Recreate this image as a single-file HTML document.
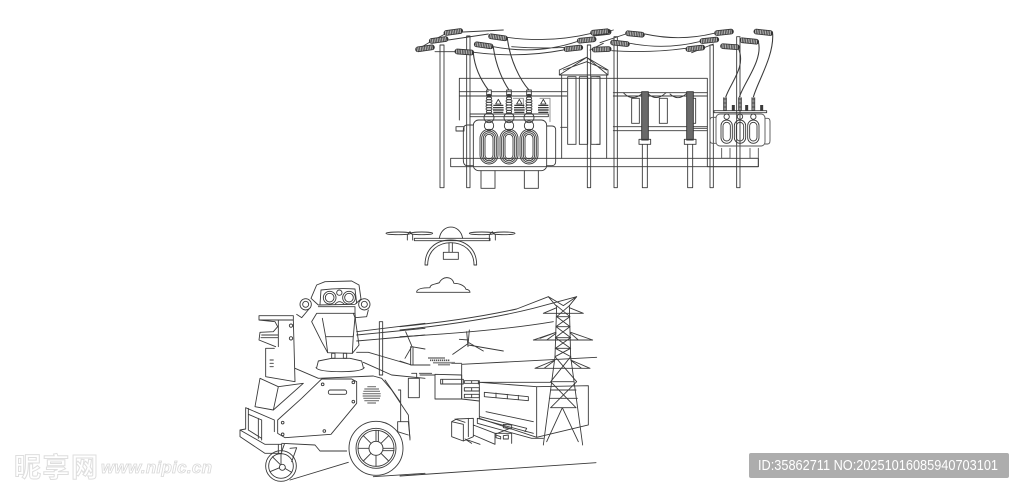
<!DOCTYPE html>
<html><head><meta charset="utf-8"><style>
html,body{margin:0;padding:0;background:#fff;width:1024px;height:493px;overflow:hidden}
svg{display:block}
.l{fill:none;stroke:#3a3a3a;stroke-width:2.7;stroke-linejoin:round;stroke-linecap:round}
</style></head><body>
<svg width="1024" height="493" viewBox="0 0 1024 493" xmlns="http://www.w3.org/2000/svg">
<defs>
<g id="ins"><path d="M-21 0H21" stroke="#333" stroke-width="17" stroke-linecap="round"/><path d="M-25 0H25" stroke="#b4b4b4" stroke-width="12" stroke-linecap="butt" stroke-dasharray="3 2"/></g>
<g id="stack"><ellipse cx="0" cy="2" rx="7" ry="4"/><ellipse cx="0" cy="10" rx="8" ry="4"/><ellipse cx="0" cy="18" rx="9" ry="4"/><ellipse cx="0" cy="26" rx="9" ry="4"/><ellipse cx="0" cy="34" rx="9" ry="4"/><ellipse cx="0" cy="42" rx="9" ry="4"/><ellipse cx="0" cy="50" rx="8" ry="4"/><circle cx="0" cy="68" r="15"/></g>
<g id="py"><path d="M0 0L-8 14H8Z" fill="none" stroke="#333" stroke-width="2.5"/><path d="M-15 18H15M-16 25H16M-16 32H16M-15 39H15" fill="none" stroke="#222" stroke-width="3.5" stroke-linecap="butt"/></g>
<g id="coil"><rect x="-27" y="-52" width="54" height="104" rx="27"/><rect x="-22" y="-47" width="44" height="94" rx="22"/><rect x="-17" y="-42" width="34" height="84" rx="17"/><rect x="-12" y="-37" width="24" height="74" rx="12"/></g>
</defs>

<!-- substation left part -->
<g transform="translate(410,20) scale(.33333)" class="l">
<path d="M90 75H102V503H90ZM170 48H180V503H170ZM532 75H542V503H532Z"/>
<path d="M148 175H892V440M148 175V300M148 215H235M245 215H470M148 228H470M122 415H1045V440H122ZM138 320H162V333H138ZM452 322H470M852 325H892"/>
<path d="M610 218H892M610 228H892M610 320H892M610 332H892"/>
<!-- temple -->
<path d="M448 165L530 112L594 165M448 165V150L530 112L594 150V165M448 165H594M455 165V415M590 165V415M460 150L530 125L590 150"/>
<path d="M473 170H498V373H473ZM508 170H533V373H508ZM543 170H570V373H543Z"/>
<path d="M560 170H570V373H560"/>
<!-- wires -->
<path d="M160 36L280 30M115 60L235 42M75 95H135M60 66L105 42M20 90L60 66"/>
<path d="M292 52Q420 70 545 40M250 80Q380 105 500 65M192 97Q330 115 460 90M305 80Q400 88 500 80"/>
<path d="M190 100C195 150 220 190 235 210M250 82C258 140 280 185 297 210M292 55C300 120 330 180 357 210" stroke-width="3.2"/>
<use href="#ins" transform="translate(130,36) rotate(-8)"/>
<use href="#ins" transform="translate(86,60) rotate(-8)"/>
<use href="#ins" transform="translate(45,85) rotate(-8)"/>
<use href="#ins" transform="translate(264,52) rotate(8)"/>
<use href="#ins" transform="translate(221,76) rotate(8)"/>
<use href="#ins" transform="translate(163,96) rotate(4)"/>
<use href="#ins" transform="translate(575,38) rotate(-6)"/>
<use href="#ins" transform="translate(530,60) rotate(-6)"/>
<use href="#ins" transform="translate(490,85) rotate(-6)"/>
<!-- transformer -->
<path d="M310 235H340V262M390 235H420V305" stroke="#888"/>
<path d="M180 282H415V290H180Z"/>
<use href="#stack" x="237" y="225"/><use href="#stack" x="297" y="225"/><use href="#stack" x="357" y="225"/>
<path d="M230 210H244V225H230ZM290 210H304V225H290ZM350 210H364V225H350Z"/>
<use href="#py" x="265" y="238"/><use href="#py" x="328" y="238"/><use href="#py" x="400" y="238"/>
<rect x="190" y="300" width="220" height="152" rx="16"/>
<path d="M190 315H172Q160 315 160 330V420Q160 437 172 437H190M410 318H425Q437 318 437 330V425Q437 437 425 437H410"/>
<path d="M213 452V505H255V452M343 452V505H385V452"/>
<circle cx="237" cy="317" r="14"/><circle cx="297" cy="317" r="14"/><circle cx="357" cy="317" r="14"/>
<use href="#coil" x="237" y="380"/><use href="#coil" x="297" y="380"/><use href="#coil" x="357" y="380"/>
</g>

<!-- substation right part -->
<g transform="translate(590,20) scale(.33333)" class="l">
<path d="M72 50H82V503H72ZM360 75H370V503H360ZM440 50H450V503H440Z"/>
<path d="M505 415V440H352"/>
<path d="M165 42Q270 65 372 40M120 70Q225 90 328 65M65 92Q180 100 287 85M305 98L370 72M20 44L70 30M30 68L125 36M0 90L40 70"/>
<path d="M445 85C470 140 420 190 407 232M505 65C520 120 460 190 448 232M548 42C552 110 500 190 490 232" stroke-width="3.2"/>
<use href="#ins" transform="translate(30,36) rotate(-6)"/>
<use href="#ins" transform="translate(135,42) rotate(6)"/>
<use href="#ins" transform="translate(90,70) rotate(6)"/>
<use href="#ins" transform="translate(35,88) rotate(-2)"/>
<use href="#ins" transform="translate(402,37) rotate(-6)"/>
<use href="#ins" transform="translate(358,61) rotate(-6)"/>
<use href="#ins" transform="translate(316,85) rotate(-6)"/>
<use href="#ins" transform="translate(520,37) rotate(6)"/>
<use href="#ins" transform="translate(478,63) rotate(6)"/>
<use href="#ins" transform="translate(420,80) rotate(4)"/>
<!-- bushings -->
<rect x="155" y="215" width="20" height="145" fill="#6a6a6a" stroke="#333"/>
<rect x="290" y="215" width="20" height="145" fill="#6a6a6a" stroke="#333"/>
<path d="M147 358H182V373H147ZM283 358H318V373H283ZM157 373V503H172V373M293 373V503H308V373"/>
<path d="M125 235H148V310H125ZM208 235H232V310H208ZM310 235H317V310H310"/>
<path d="M100 218Q125 245 155 222M175 222Q200 245 228 218M240 222Q265 245 290 220"/>
<!-- small transformer -->
<path d="M372 272H530V278H372Z"/>
<path d="M405 232V272M450 232V272M490 232V272" stroke-width="11" stroke-linecap="butt"/>
<path d="M405 232V272M450 232V272M490 232V272" stroke="#bbb" stroke-width="7" stroke-linecap="butt" stroke-dasharray="2 2"/>
<path d="M430 255V272M470 255V272M515 255V272" stroke-width="9" stroke-linecap="butt"/>
<rect x="378" y="282" width="147" height="96" rx="12" stroke="#555"/>
<path d="M378 292H368Q360 292 360 302V360Q360 370 368 370H378M525 295H533Q540 295 540 305V362Q540 372 533 372H525" stroke="#555"/>
<path d="M395 385V415H420V385M480 385V415H505V385" stroke="#555"/>
<rect x="393" y="300" width="34" height="70" rx="17"/><rect x="399" y="307" width="22" height="56" rx="11"/>
<rect x="433" y="300" width="34" height="70" rx="17"/><rect x="439" y="307" width="22" height="56" rx="11"/>
<rect x="473" y="300" width="34" height="70" rx="17"/><rect x="479" y="307" width="22" height="56" rx="11"/>
<circle cx="410" cy="290" r="8"/><circle cx="450" cy="290" r="8"/><circle cx="490" cy="290" r="8"/>
</g>

<!-- drone and cloud -->
<g transform="translate(380,220) scale(.33333)" class="l" stroke="#444">
<path d="M178 55C185 10 240 10 248 55"/>
<path d="M103 55H330V62H103Z"/>
<ellipse cx="55" cy="40" rx="37" ry="4"/><ellipse cx="125" cy="40" rx="33" ry="4"/>
<ellipse cx="305" cy="40" rx="37" ry="4"/><ellipse cx="372" cy="40" rx="33" ry="4"/>
<path d="M82 60V44L90 35L98 44V60M328 60V44L337 35L346 44V60"/>
<path d="M135 135C135 85 170 60 212 60C255 60 290 85 290 135H282C282 92 250 68 212 68C175 68 143 92 143 135Z"/>
<path d="M207 68V95M217 68V95M190 97H235V118H190Z"/>
<path d="M110 215C112 205 130 203 150 203C150 192 170 192 178 188C185 170 215 165 222 190C240 190 255 198 258 208C265 208 270 212 270 217H110"/>
</g>

<!-- robot -->
<g transform="translate(235,275) scale(.33333)" class="l">
<path d="M228 70L245 30L270 20L350 18L372 30L378 72L360 88L250 90Z"/>
<path d="M258 45Q310 38 360 42L365 85M258 45L255 88"/>
<circle cx="284" cy="68" r="19"/><circle cx="284" cy="68" r="13"/><circle cx="342" cy="68" r="19"/><circle cx="342" cy="68" r="13"/><circle cx="313" cy="53" r="8"/><path d="M300 88Q313 72 328 88"/>
<circle cx="212" cy="88" r="17"/><circle cx="212" cy="88" r="9"/><circle cx="388" cy="88" r="17"/><circle cx="388" cy="88" r="9"/>
<path d="M185 118L200 128L222 102M355 115L360 128L395 125L400 105"/>
<path d="M245 115H360L362 140L372 210L352 235L278 233L260 200L230 140Z"/>
<path d="M250 95H360V115M262 130L272 185H355L360 125M272 185L278 233M355 180L352 235"/>
<path d="M290 235H300V250H290ZM325 235H335V250H325Z"/>
<path d="M245 278L250 258L290 250H345L380 258L385 278M243 278Q250 290 320 290Q380 290 388 278"/>
<path d="M72 122H175V135H72ZM72 135L120 140L128 155L115 170L75 172L72 195L122 215M130 135V215M175 135L180 320L92 305V220H118M80 180H128M78 188H128"/>
<circle cx="168" cy="152" r="5"/><circle cx="168" cy="190" r="5"/>
<path d="M105 255H115M105 265H115M105 275H115"/>
<path d="M75 310L130 335L205 325M75 310L60 395L115 405L205 325M130 335L115 405"/>
<path d="M32 398L118 435V470M32 398V462L15 465V485L90 535H140V508H90L15 465M40 400V465M70 430V490M80 435V495M40 418L80 435M40 465L80 490"/>
<path d="M180 280L250 310L415 303L440 310L470 345L520 420L525 495M140 505L240 510L255 528H335"/>
<path d="M260 312H350L365 320V385L288 478L150 488L128 475V435L200 370Z"/>
<circle cx="263" cy="328" r="4"/><circle cx="355" cy="322" r="4"/><circle cx="355" cy="380" r="4"/><circle cx="268" cy="468" r="4"/><circle cx="143" cy="443" r="4"/><circle cx="143" cy="478" r="4"/>
<rect x="280" y="345" width="55" height="13" rx="6"/>
<path d="M397 335H423M388 342H432M385 349H435M383 356H437M383 363H437M385 370H435M388 377H432M397 384H423" stroke="#777" stroke-width="3.5" stroke-linecap="butt"/>
<circle cx="423" cy="520" r="81"/><circle cx="423" cy="520" r="60"/><circle cx="423" cy="520" r="54"/><circle cx="423" cy="520" r="21"/>
<path d="M423 466V499M423 541V574M369 520H402M444 520H477M385 482L408 505M438 535L461 558M461 482L438 505M408 535L385 558M430 466V499M477 527H444"/>
<circle cx="138" cy="573" r="46"/><circle cx="138" cy="573" r="37"/><circle cx="142" cy="577" r="9"/>
<path d="M138 536V568M105 590L134 578M170 592L150 580M112 545L135 568M130 510V535M165 520L185 518L170 560M148 508L140 530"/>
<path d="M165 615L340 562M415 605L570 595"/>
<path d="M433 140H443V300H433ZM490 345H497V440H490M488 440L520 440L525 490M488 440V470L520 480"/>
<path d="M365 170L570 145M365 180L570 160M365 198L570 180M365 232H400L530 270H570M385 262L470 300L570 310M450 315L495 380"/>
<path d="M527 215H534V270H527ZM530 212L512 170M530 215L510 250M530 215L570 222"/>
</g>

<!-- scene -->
<g transform="translate(400,285) scale(.33333)" class="l">
<path d="M0 125Q200 105 350 72L445 35M0 135Q240 110 400 70L530 35M0 155Q280 140 460 110"/>
<path d="M0 228L35 240H90M155 235H185"/>
<path d="M25 280H58V338H25ZM35 265H50V280M58 265H95M60 270H105"/>
<path d="M105 268L185 270V342H105Z"/>
<path d="M185 238L590 217M185 238V342L238 348"/>
<path d="M122 283H190V297H122ZM128 283V297"/>
<path d="M193 287H238V295H193ZM193 308H238V318H193ZM193 328H238V338H193ZM215 287V295M215 308V318M215 328V338M235 287V297"/>
<path d="M238 292L410 305V457L238 400ZM238 292H350L455 292M410 305L565 302V420L410 457"/>
<path d="M253 322L385 335V347L253 335ZM288 324V337M322 328V341M355 331V344"/>
<path d="M258 380L400 410M232 400L400 445M232 400V415L395 460H430M240 395L380 430L375 440M310 418L335 420V432L310 428Z"/>
<path d="M155 410L190 418V468L155 455ZM155 410L170 402L220 400V455L190 468M165 402L195 412M205 400V455M220 420L285 445V478L220 450M285 445H335V475M285 448L330 430M288 450L302 455V462L288 458ZM310 452L325 450V462L310 462ZM195 462L240 478M215 475L195 462"/>
<path d="M0 573L588 533"/>
<!-- turbine 2 -->
<path d="M200 140L204 185M205 170L208 135M205 175L158 208M205 180L310 198M205 165L178 163M205 172L250 198"/>
<!-- rock cluster -->
<path d="M85 219H135M90 226H150M100 233H165M115 239H150" stroke="#555" stroke-width="5" stroke-linecap="butt" stroke-dasharray="4 2"/>
<!-- pylon -->
<path d="M445 35L490 62L530 35M445 35L468 62M530 35L508 62M430 85L470 68M550 85L508 68M430 85H550M400 165L468 142M578 165L512 142M400 165H578M405 250L465 225M570 250L512 225M405 250H570M420 160L468 142M440 165L468 145M535 165L512 145M432 250L462 228M545 250L515 228"/>
<path d="M470 62L465 215L430 480M508 62L512 215L548 480"/>
<path d="M470 62L510 95L468 125L512 158L466 190L512 215M508 62L470 95L510 125L466 158L512 190L465 215M472 95H508M468 125H510M468 158H510M466 190H512"/>
<path d="M465 215L530 290L452 368M512 215L452 290L528 368M458 290H520M452 315H528M448 340H532"/>
<path d="M452 368H528M487 368L440 470M487 368L535 470"/>
</g>

<!-- watermarks -->
<text x="14" y="477" font-family="'Liberation Sans','Noto Sans CJK SC',sans-serif" font-size="27" font-weight="700" fill="#fff" stroke="#dedede" stroke-width="1" textLength="84">昵享网</text>
<text x="101" y="473" font-family="'Liberation Sans',sans-serif" font-size="17" font-weight="700" font-style="italic" fill="#fff" stroke="#d8d8d8" stroke-width=".8" textLength="111">www.nipic.cn</text>
<rect x="749" y="453" width="260" height="25" rx="2" fill="#adadad"/>
<text x="758" y="470" font-family="'Liberation Sans',sans-serif" font-size="14.5" fill="#fff" textLength="240" lengthAdjust="spacingAndGlyphs">ID:35862711 NO:20251016085940703101</text>
</svg>
</body></html>
